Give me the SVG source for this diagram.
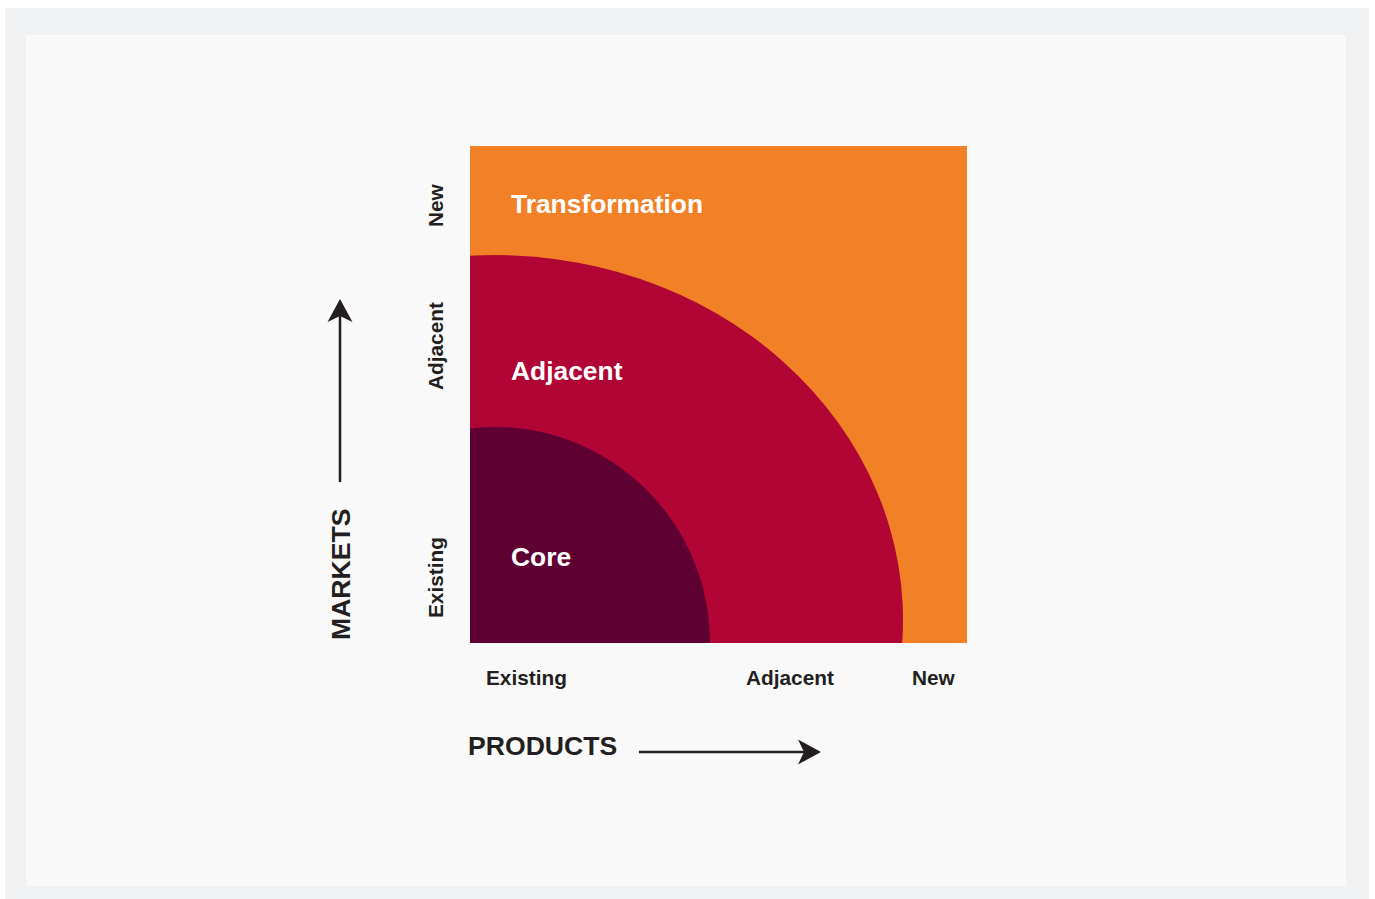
<svg xmlns="http://www.w3.org/2000/svg" width="1375" height="899" viewBox="0 0 1375 899">
<defs>
<style>
.zone{font-family:"Liberation Sans",Arial,sans-serif;font-weight:bold;font-size:26.4px;fill:#ffffff}
.tick{font-family:"Liberation Sans",Arial,sans-serif;font-weight:bold;font-size:20.8px;fill:#231f20}
.axis{font-family:"Liberation Sans",Arial,sans-serif;font-weight:bold;font-size:26.6px;fill:#231f20}
.line{stroke:#231f20;stroke-width:2.5;fill:none}
.head{fill:#231f20}
</style>
</defs>
<rect x="0" y="0" width="1375" height="899" fill="#ffffff"/>
<rect x="5" y="8" width="1364" height="891" fill="#f0f1f3"/>
<rect x="26" y="35" width="1320" height="851" fill="#f9f9f9"/>

<g id="transformation">
<rect x="470" y="146" width="497" height="497" fill="#f28026"/>
<text class="zone" x="511" y="213">Transformation</text>
</g>
<g id="adjacent">
<path d="M470,643 L470,255.7 A408,365 0 0 1 902.2,643 Z" fill="#b00535"/>
<text class="zone" x="511" y="380">Adjacent</text>
</g>
<g id="core">
<path d="M470,643 L470,428.5 A215,216 0 0 1 710,643 Z" fill="#5e0032"/>
<text class="zone" x="511" y="566">Core</text>
</g>

<g id="product-ticks">
<text class="tick" x="486" y="685">Existing</text>
<text class="tick" x="746" y="685">Adjacent</text>
<text class="tick" x="912" y="685">New</text>
</g>
<g id="market-ticks">
<text class="tick" transform="translate(443,618) rotate(-90)">Existing</text>
<text class="tick" transform="translate(443,390) rotate(-90)">Adjacent</text>
<text class="tick" transform="translate(443,227) rotate(-90)">New</text>
</g>

<g id="products-label">
<text class="axis" x="468" y="755">PRODUCTS</text>
</g>
<g id="markets-label">
<text class="axis" transform="translate(350,640) rotate(-90)">MARKETS</text>
</g>

<g id="connectors">
<line class="line" x1="340" y1="482" x2="340" y2="312"/>
<path class="head" d="M340,299 L352.5,322 L340,316 L327.5,322 Z"/>
<line class="line" x1="639" y1="752" x2="808" y2="752"/>
<path class="head" d="M821,752 L798,739.5 L804,752 L798,764.5 Z"/>
</g>
</svg>
